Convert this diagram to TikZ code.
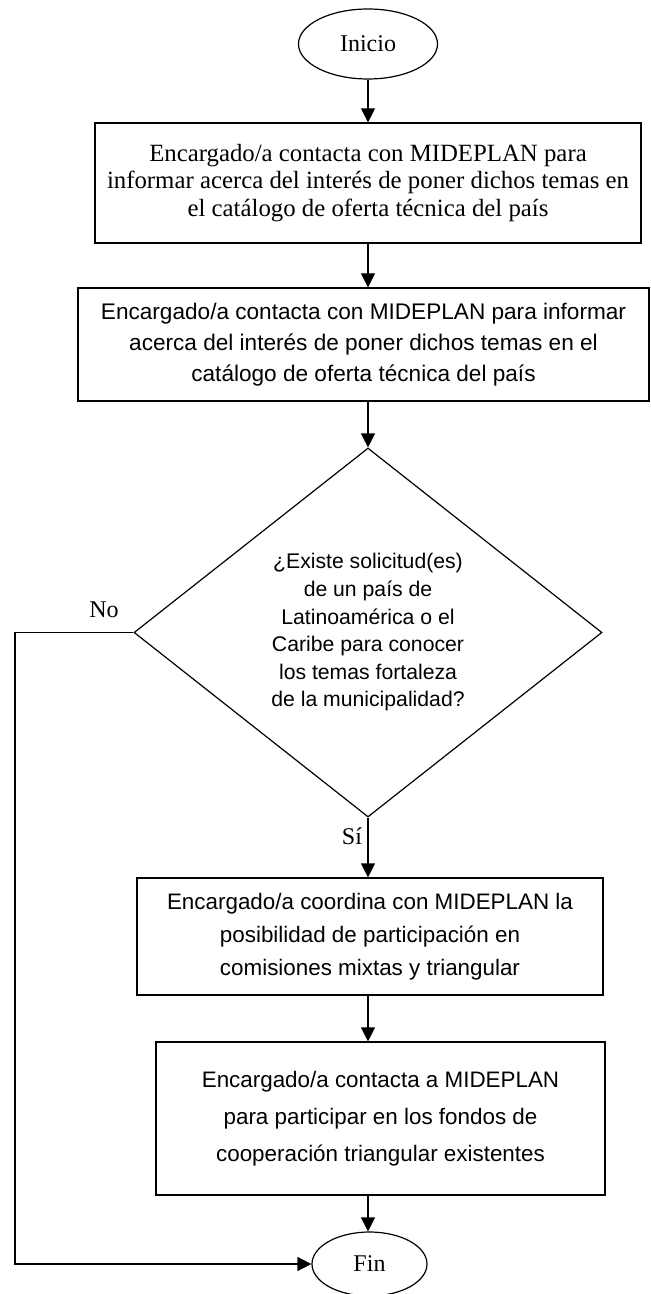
\documentclass[tikz,border=0pt]{standalone}
\usepackage{fontspec}
\setmainfont{Liberation Serif}
\newfontfamily\aptos{Liberation Sans}
\usetikzlibrary{shapes.geometric, arrows.meta}
\tikzstyle{startstop} = [ellipse, draw, line width=0.6pt, inner sep=0pt, font=\fontsize{12}{13.5}\selectfont]
\tikzstyle{process} = [rectangle, draw, line width=0.6pt, inner sep=0pt, align=center]
\tikzstyle{decision} = [diamond, draw, line width=0.6pt, inner sep=0pt, align=center]
\tikzstyle{lbl} = [font=\fontsize{12}{13.5}\selectfont]
\tikzstyle{arrow} = [line width=0.6pt, -{Triangle[length=7pt, width=7pt]}]

\begin{document}
\begin{tikzpicture}[x=0.5pt, y=-0.5pt]
            \useasboundingbox (0,0) rectangle (650,1294);
            \node [startstop, minimum width=69.5pt, minimum height=35pt] at (368,44) (inicio) {Inicio};
            \node [process, minimum width=273pt, minimum height=60pt, font=\fontsize{12.4}{13.6}\selectfont] at (368,183) (b1) {Encargado/a contacta con MIDEPLAN para\\informar acerca del interés de poner dichos temas en\\el catálogo de oferta técnica del país};
            \node [process, minimum width=285.5pt, minimum height=56.5pt, font=\aptos\fontsize{11.3}{15.5}\selectfont] at (363.5,344.5) (b2) {Encargado/a contacta con MIDEPLAN para informar\\acerca del interés de poner dichos temas en el\\catálogo de oferta técnica del país};
            \node [decision, minimum width=234pt, minimum height=184.5pt, font=\aptos\fontsize{10.6}{13.8}\selectfont] at (368,632.5) (dec) {¿Existe solicitud(es)\\de un país de\\Latinoamérica o el\\Caribe para conocer\\los temas fortaleza\\de la municipalidad?};
            \node [process, minimum width=233pt, minimum height=58.5pt, font=\aptos\fontsize{11.2}{16.4}\selectfont] at (370,936.5) (b3) {Encargado/a coordina con MIDEPLAN la\\posibilidad de participación en\\comisiones mixtas y triangular};
            \node [process, minimum width=224.5pt, minimum height=76.5pt, font=\aptos\fontsize{11.2}{18.5}\selectfont] at (380.5,1118.5) (b4) {Encargado/a contacta a MIDEPLAN\\para participar en los fondos de\\cooperación triangular existentes};
            \node [startstop, minimum width=57.5pt, minimum height=32pt] at (369.5,1264) (fin) {Fin};
            \coordinate (noleft) at (15,632.5);
            \node [lbl] at (104,610) (no) {No};
            \node [lbl] at (352,836) (si) {Sí};
            \draw [arrow] (inicio) -- (b1);
            \draw [arrow] (b1.south) -- (b1.south |- b2.north);
            \draw [arrow] (b1.south |- b2.south) -- (dec.north);
            \draw [arrow] (dec.south) -- (dec.south |- b3.north);
            \draw [arrow] (dec.south |- b3.south) -- (dec.south |- b4.north);
            \draw [arrow] (dec.south |- b4.south) -- (dec.south |- fin.north);
            \draw [arrow] (dec.west) -- (noleft) |- (fin.west);
\end{tikzpicture}
\end{document}
